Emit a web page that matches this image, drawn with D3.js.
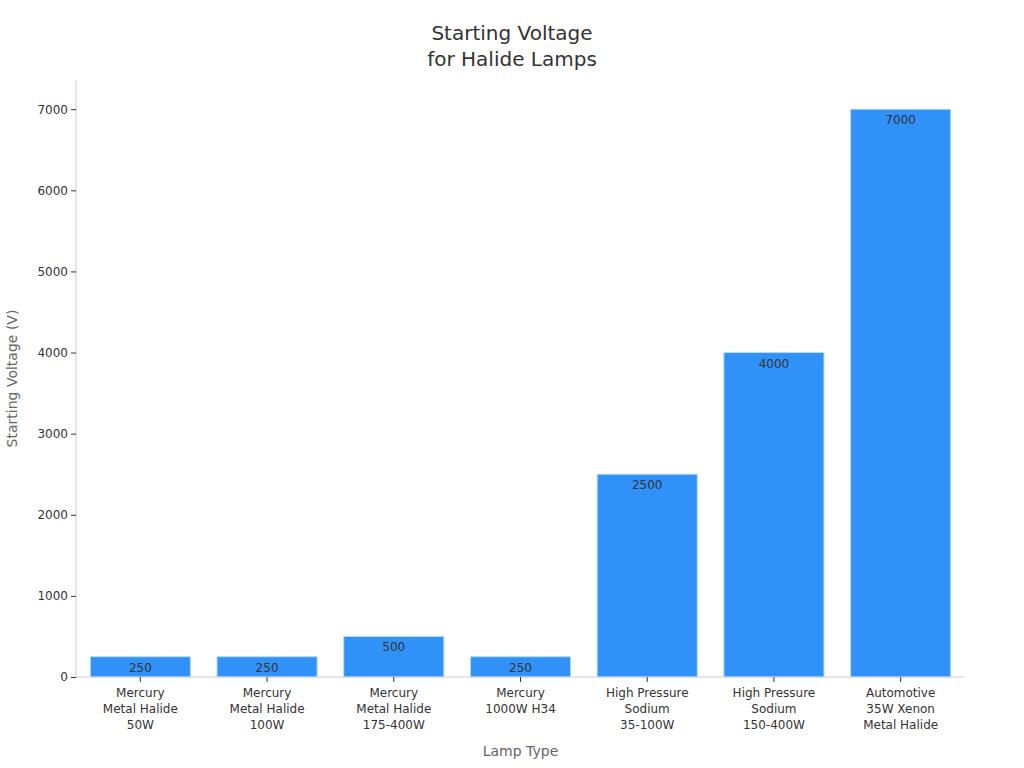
<!DOCTYPE html>
<html><head><meta charset="utf-8">
<script src="https://cdn.jsdelivr.net/npm/d3@7"></script>
<style>body{margin:0;background:#fff;}svg{font-family:"DejaVu Sans",sans-serif;}</style>
</head><body>
<svg id="c" width="1024" height="768"></svg>
<script>
const categories = [
  ["Mercury","Metal Halide","50W"],
  ["Mercury","Metal Halide","100W"],
  ["Mercury","Metal Halide","175-400W"],
  ["Mercury","1000W H34"],
  ["High Pressure","Sodium","35-100W"],
  ["High Pressure","Sodium","150-400W"],
  ["Automotive","35W Xenon","Metal Halide"]
];
const values = [250, 250, 500, 250, 2500, 4000, 7000];
const yTicks = [0, 1000, 2000, 3000, 4000, 5000, 6000, 7000];
const titleLines = ["Starting Voltage", "for Halide Lamps"];

(function() {
const svg = d3.select("#c");
const mL = 77, mR = 964, mT = 80, mB = 677;
const keys = categories.map(c => c.join(" "));
const x = d3.scaleBand().domain(keys).range([mL, mR]).paddingInner(0.21).paddingOuter(0.105);
const y = d3.scaleLinear().domain([0, 7360]).range([mB, mT]);

// title
const t = svg.append("text").attr("x", 512).attr("text-anchor", "middle")
  .attr("font-size", 20).attr("fill", "#333");
titleLines.forEach((l, i) => t.append("tspan").attr("x", 512).attr("y", 40 + i * 26).text(l));

// bars
svg.append("g").selectAll("rect").data(values).join("rect")
  .attr("x", (d, i) => x(keys[i]))
  .attr("width", x.bandwidth())
  .attr("y", d => y(d))
  .attr("height", d => y(0) - y(d))
  .attr("fill", "#3092f8")
  .attr("stroke", "#b9d9fb")
  .attr("stroke-width", 1);

svg.append("g").selectAll("text").data(values).join("text")
  .attr("x", (d, i) => x(keys[i]) + x.bandwidth() / 2)
  .attr("y", d => y(d) + 15)
  .attr("text-anchor", "middle").attr("font-size", 12).attr("fill", "#333")
  .text(d => d);

// y axis
const ya = svg.append("g").attr("transform", `translate(${mL - 1},0)`)
  .call(d3.axisLeft(y).tickValues(yTicks).tickFormat(d3.format("d")).tickSize(5).tickPadding(3));
ya.select(".domain").attr("stroke", "#ccc").attr("d", `M0,${mT}V${mB}`);
ya.selectAll(".tick line").attr("stroke", "#333");
ya.selectAll(".tick text").attr("font-size", 12).attr("fill", "#333").attr("font-family", "DejaVu Sans");

// x axis
const xa = svg.append("g").attr("transform", `translate(0,${mB})`)
  .call(d3.axisBottom(x).tickSize(5).tickPadding(6));
xa.select(".domain").attr("stroke", "#ccc").attr("d", `M${mL - 1},0H${mR}`);
xa.selectAll(".tick line").attr("stroke", "#333");
xa.selectAll(".tick text").each(function(d, i) {
  const el = d3.select(this).text(null).attr("font-size", 12).attr("fill", "#333").attr("font-family", "DejaVu Sans");
  categories[i].forEach((l, j) => el.append("tspan").attr("x", 0).attr("dy", j === 0 ? "0.71em" : 16).text(l));
});

// axis titles
svg.append("text").attr("x", (mL + mR) / 2).attr("y", 756).attr("text-anchor", "middle")
  .attr("font-size", 14).attr("fill", "#666").text("Lamp Type");
svg.append("text").attr("transform", `translate(17,${(mT + mB) / 2}) rotate(-90)`)
  .attr("text-anchor", "middle").attr("font-size", 14).attr("fill", "#666").text("Starting Voltage (V)");
})();
</script>
</body></html>
